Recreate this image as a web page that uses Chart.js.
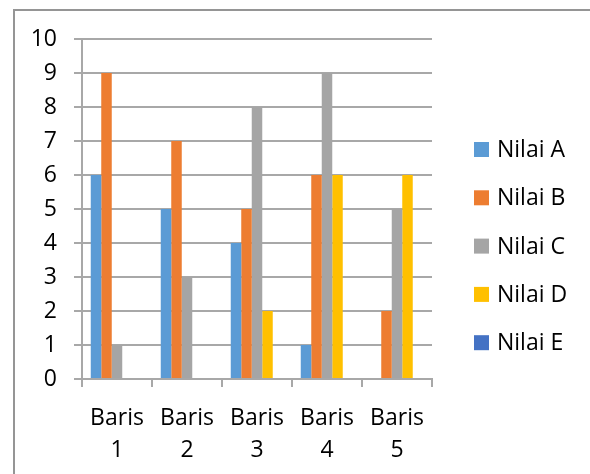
<!DOCTYPE html>
<html>
<head>
<meta charset="utf-8">
<script src="https://cdn.jsdelivr.net/npm/chart.js@4/dist/chart.umd.min.js"></script>
<style>
  html, body { margin: 0; padding: 0; background: #fff; }
  #wrap { position: relative; width: 590px; height: 474px; overflow: hidden; }
  #frame { position: absolute; left: 13px; top: 9px; width: 600px; height: 500px;
           border: 2px solid #959595; box-sizing: border-box; pointer-events: none; }
  canvas { position: absolute; left: 0; top: 0; }
</style>
</head>
<body>
<div id="wrap">
  <canvas id="chart" width="590" height="474"></canvas>
  <div id="frame"></div>
</div>
<script>
// Row categories (two-line axis labels)
const categories = [['Baris', '1'], ['Baris', '2'], ['Baris', '3'], ['Baris', '4'], ['Baris', '5']];
// Series values per row
const nilaiA = [6, 5, 4, 1, 0];
const nilaiB = [9, 7, 5, 6, 2];
const nilaiC = [1, 3, 8, 9, 5];
const nilaiD = [0, 0, 2, 6, 6];
const nilaiE = [0, 0, 0, 0, 0];
const seriesNames = ['Nilai A', 'Nilai B', 'Nilai C', 'Nilai D', 'Nilai E'];
const seriesColors = ['#5B9BD5', '#ED7D31', '#A5A5A5', '#FFC000', '#4472C4'];
const yTicks = [0, 1, 2, 3, 4, 5, 6, 7, 8, 9, 10];

const FONT = "'Open Sans', 'DejaVu Sans', sans-serif";
const FONT_SIZE = 23;
const gridColor = '#a8a8a8';

const seriesValues = [nilaiA, nilaiB, nilaiC, nilaiD, nilaiE];
const datasets = seriesValues.map((vals, i) => ({
  label: seriesNames[i],
  data: vals,
  backgroundColor: seriesColors[i],
  borderWidth: 0,
  categoryPercentage: 0.75,
  barPercentage: 1.0
}));

// Legend drawn to the right of the plot, one row per series
const sideLegend = {
  id: 'sideLegend',
  afterDraw(chart) {
    const ctx = chart.ctx;
    ctx.save();
    ctx.font = FONT_SIZE + 'px ' + FONT;
    ctx.textBaseline = 'middle';
    ctx.textAlign = 'left';
    const startY = 149.5, step = 48.3;
    chart.data.datasets.forEach((ds, i) => {
      const y = startY + i * step;
      ctx.fillStyle = ds.backgroundColor;
      ctx.fillRect(474, y - 7.5, 15, 15);
      ctx.fillStyle = '#000';
      ctx.fillText(ds.label, 497, y + 1);
    });
    ctx.restore();
  }
};

new Chart(document.getElementById('chart'), {
  type: 'bar',
  data: { labels: categories, datasets },
  options: {
    responsive: false,
    animation: false,
    devicePixelRatio: 1,
    layout: { padding: { top: 39, right: 158, left: 0, bottom: 0 } },
    plugins: { legend: { display: false }, tooltip: { enabled: false } },
    scales: {
      x: {
        grid: { display: true, drawOnChartArea: false, drawTicks: true, tickLength: 8,
                color: gridColor, lineWidth: 2, offset: true },
        border: { display: true, color: gridColor, width: 2 },
        ticks: { color: '#000', font: { family: FONT, size: FONT_SIZE, lineHeight: 1.38 }, padding: 16,
                 maxRotation: 0, autoSkip: false },
        afterFit(scale) { scale.height = 474 - 379; }
      },
      y: {
        min: 0, max: 10,
        afterBuildTicks(scale) { scale.ticks = yTicks.map(v => ({ value: v })); },
        grid: { color: gridColor, lineWidth: 2, tickLength: 8, drawTicks: true },
        border: { display: true, color: gridColor, width: 2 },
        ticks: { color: '#000', font: { family: FONT, size: FONT_SIZE }, padding: 17 },
        afterFit(scale) { scale.width = 82; }
      }
    }
  },
  plugins: [sideLegend]
});
</script>
</body>
</html>
